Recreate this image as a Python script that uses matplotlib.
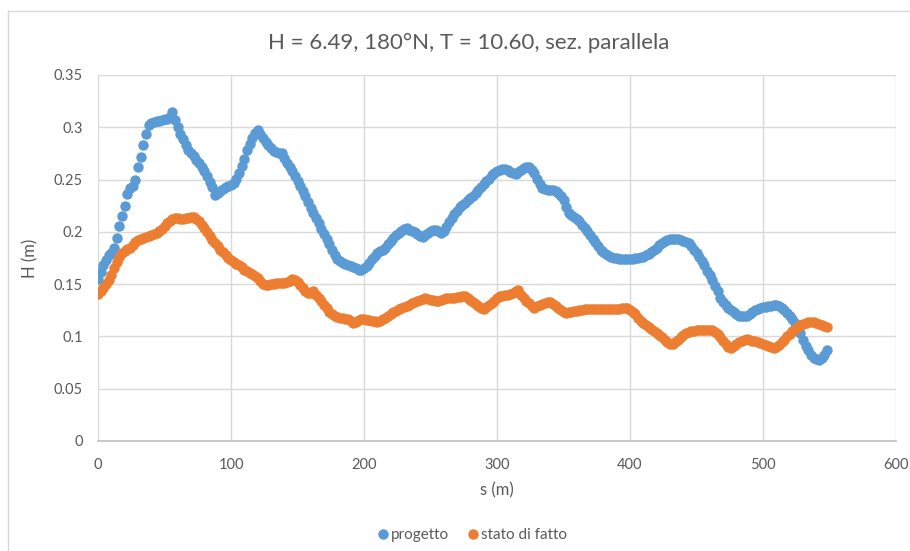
import numpy as np
import matplotlib
matplotlib.use("Agg")
import matplotlib.pyplot as plt
from matplotlib.lines import Line2D

plt.rcParams['font.family'] = ['Lato', 'DejaVu Sans']

# progressive along the section, one station every 2 m
s = np.arange(0, 550, 2)

# wave height, design configuration
h_progetto = [
    0.155, 0.162, 0.168, 0.173, 0.178, 0.180, 0.185, 0.194, 0.206, 0.215,
    0.225, 0.236, 0.242, 0.244, 0.250, 0.262, 0.272, 0.283, 0.294, 0.302,
    0.304, 0.305, 0.306, 0.306, 0.307, 0.308, 0.308, 0.310, 0.315, 0.307,
    0.300, 0.294, 0.289, 0.283, 0.278, 0.275, 0.273, 0.269, 0.266, 0.262,
    0.258, 0.253, 0.248, 0.243, 0.235, 0.237, 0.239, 0.241, 0.243, 0.244,
    0.245, 0.247, 0.251, 0.256, 0.263, 0.270, 0.278, 0.284, 0.290, 0.295,
    0.297, 0.294, 0.290, 0.286, 0.283, 0.280, 0.277, 0.276, 0.275, 0.275,
    0.271, 0.266, 0.262, 0.258, 0.253, 0.249, 0.244, 0.239, 0.234, 0.229,
    0.223, 0.218, 0.213, 0.208, 0.203, 0.198, 0.193, 0.188, 0.183, 0.178,
    0.174, 0.172, 0.170, 0.169, 0.168, 0.167, 0.166, 0.165, 0.164, 0.164,
    0.165, 0.167, 0.170, 0.174, 0.177, 0.180, 0.182, 0.183, 0.185, 0.188,
    0.191, 0.194, 0.197, 0.199, 0.201, 0.203, 0.204, 0.202, 0.201, 0.200,
    0.198, 0.196, 0.195, 0.197, 0.199, 0.201, 0.202, 0.202, 0.201, 0.199,
    0.201, 0.205, 0.209, 0.213, 0.217, 0.220, 0.224, 0.226, 0.228, 0.230,
    0.232, 0.234, 0.237, 0.240, 0.243, 0.246, 0.249, 0.251, 0.254, 0.256,
    0.258, 0.259, 0.260, 0.260, 0.259, 0.257, 0.256, 0.255, 0.257, 0.259,
    0.261, 0.262, 0.262, 0.259, 0.256, 0.251, 0.246, 0.242, 0.241, 0.240,
    0.240, 0.240, 0.239, 0.237, 0.234, 0.230, 0.224, 0.218, 0.216, 0.214,
    0.212, 0.210, 0.207, 0.204, 0.201, 0.197, 0.193, 0.190, 0.186, 0.183,
    0.181, 0.179, 0.177, 0.176, 0.175, 0.175, 0.174, 0.174, 0.174, 0.174,
    0.174, 0.174, 0.175, 0.175, 0.176, 0.176, 0.178, 0.179, 0.181, 0.183,
    0.185, 0.187, 0.189, 0.191, 0.192, 0.193, 0.193, 0.193, 0.193, 0.192,
    0.191, 0.190, 0.189, 0.186, 0.183, 0.180, 0.176, 0.172, 0.168, 0.163,
    0.159, 0.154, 0.148, 0.143, 0.137, 0.133, 0.130, 0.127, 0.125, 0.123,
    0.121, 0.120, 0.120, 0.120, 0.120, 0.121, 0.123, 0.125, 0.126, 0.127,
    0.128, 0.128, 0.129, 0.129, 0.130, 0.130, 0.129, 0.127, 0.125, 0.122,
    0.120, 0.117, 0.113, 0.108, 0.103, 0.097, 0.091, 0.087, 0.082, 0.079,
    0.078, 0.077, 0.079, 0.082, 0.087,
]

# wave height, present state
h_stato = [
    0.141, 0.143, 0.146, 0.150, 0.154, 0.159, 0.165, 0.171, 0.176, 0.180,
    0.182, 0.184, 0.185, 0.187, 0.190, 0.192, 0.193, 0.194, 0.195, 0.196,
    0.197, 0.198, 0.199, 0.201, 0.203, 0.206, 0.208, 0.210, 0.212, 0.213,
    0.213, 0.212, 0.212, 0.213, 0.213, 0.214, 0.214, 0.212, 0.210, 0.207,
    0.204, 0.200, 0.196, 0.192, 0.189, 0.186, 0.183, 0.181, 0.178, 0.175,
    0.173, 0.171, 0.169, 0.168, 0.166, 0.164, 0.163, 0.161, 0.160, 0.158,
    0.156, 0.153, 0.150, 0.149, 0.149, 0.150, 0.150, 0.151, 0.151, 0.151,
    0.151, 0.152, 0.153, 0.155, 0.154, 0.152, 0.149, 0.146, 0.143, 0.142,
    0.142, 0.143, 0.140, 0.137, 0.134, 0.130, 0.127, 0.123, 0.121, 0.120,
    0.119, 0.118, 0.118, 0.117, 0.117, 0.115, 0.113, 0.114, 0.116, 0.117,
    0.117, 0.116, 0.116, 0.115, 0.115, 0.114, 0.115, 0.117, 0.118, 0.120,
    0.121, 0.123, 0.124, 0.126, 0.127, 0.128, 0.129, 0.130, 0.132, 0.133,
    0.134, 0.135, 0.136, 0.137, 0.136, 0.135, 0.135, 0.134, 0.134, 0.135,
    0.136, 0.137, 0.137, 0.137, 0.137, 0.138, 0.138, 0.139, 0.139, 0.137,
    0.135, 0.133, 0.131, 0.129, 0.127, 0.126, 0.128, 0.130, 0.132, 0.134,
    0.137, 0.139, 0.139, 0.140, 0.140, 0.141, 0.142, 0.143, 0.144, 0.140,
    0.137, 0.134, 0.132, 0.129, 0.127, 0.129, 0.130, 0.131, 0.132, 0.133,
    0.133, 0.131, 0.129, 0.127, 0.125, 0.123, 0.122, 0.123, 0.123, 0.124,
    0.124, 0.125, 0.125, 0.126, 0.126, 0.126, 0.126, 0.126, 0.126, 0.126,
    0.126, 0.126, 0.126, 0.126, 0.126, 0.126, 0.126, 0.127, 0.127, 0.127,
    0.125, 0.123, 0.121, 0.118, 0.115, 0.113, 0.111, 0.109, 0.107, 0.105,
    0.103, 0.101, 0.099, 0.097, 0.095, 0.093, 0.093, 0.095, 0.097, 0.099,
    0.101, 0.103, 0.104, 0.105, 0.105, 0.106, 0.106, 0.106, 0.106, 0.106,
    0.106, 0.106, 0.104, 0.102, 0.099, 0.096, 0.093, 0.090, 0.089, 0.091,
    0.093, 0.095, 0.096, 0.097, 0.098, 0.097, 0.096, 0.096, 0.095, 0.094,
    0.093, 0.092, 0.091, 0.090, 0.089, 0.090, 0.092, 0.095, 0.097, 0.100,
    0.102, 0.105, 0.107, 0.109, 0.111, 0.112, 0.113, 0.114, 0.114, 0.114,
    0.113, 0.112, 0.111, 0.110, 0.109,
]

x_ticks = [0, 100, 200, 300, 400, 500, 600]
y_ticks = [0, 0.05, 0.1, 0.15, 0.2, 0.25, 0.3, 0.35]
y_labels = ['0', '0.05', '0.1', '0.15', '0.2', '0.25', '0.3', '0.35']

blue = '#5B9BD5'
orange = '#ED7D31'
grey_txt = '#595959'
grid_c = '#D9D9D9'

fig = plt.figure(figsize=(9.1, 5.51), dpi=100)
ax = fig.add_axes([98/910, 1-441/551, 798/910, 366/551])

ax.plot(s, h_progetto, 'o', color=blue, ms=7.5, mew=0, label='progetto', zorder=3)
ax.plot(s, h_stato, 'o', color=orange, ms=7.5, mew=0, label='stato di fatto', zorder=4)

ax.set_xlim(0, 600)
ax.set_ylim(0, 0.35)
ax.set_xticks(x_ticks)
ax.set_yticks(y_ticks)
ax.set_yticklabels(y_labels)
ax.grid(True, color=grid_c, lw=1)
ax.set_axisbelow(True)
for side in ['top', 'right', 'left']:
    ax.spines[side].set_visible(False)
ax.spines['bottom'].set_color('#BFBFBF')
ax.spines['bottom'].set_linewidth(1.2)
ax.tick_params(length=0, labelcolor=grey_txt, labelsize=10.5)
ax.tick_params(axis='x', pad=12)
ax.tick_params(axis='y', pad=11)

ax.set_xlabel('s (m)', color=grey_txt, fontsize=12, labelpad=8)
ax.set_ylabel('H (m)', color=grey_txt, fontsize=12, labelpad=11)

fig.text(469/910, 1-43/551, 'H = 6.49, 180°N, T = 10.60, sez. parallela',
         ha='center', va='center', fontsize=16, color=grey_txt)

leg = fig.legend(loc='center', bbox_to_anchor=(471/910, 1-535/551), ncol=2,
                 frameon=False, fontsize=11, handletextpad=0.0,
                 columnspacing=1.1, handlelength=1.0, markerscale=1.0)
for t in leg.get_texts():
    t.set_color(grey_txt)

# chart area border
fig.add_artist(Line2D([8/910, 8/910], [0, 1-11/551], transform=fig.transFigure,
                      color='#D9D9D9', lw=1))
fig.add_artist(Line2D([8/910, 1], [1-11/551, 1-11/551], transform=fig.transFigure,
                      color='#D9D9D9', lw=1))

fig.savefig('out.png', dpi=100)
